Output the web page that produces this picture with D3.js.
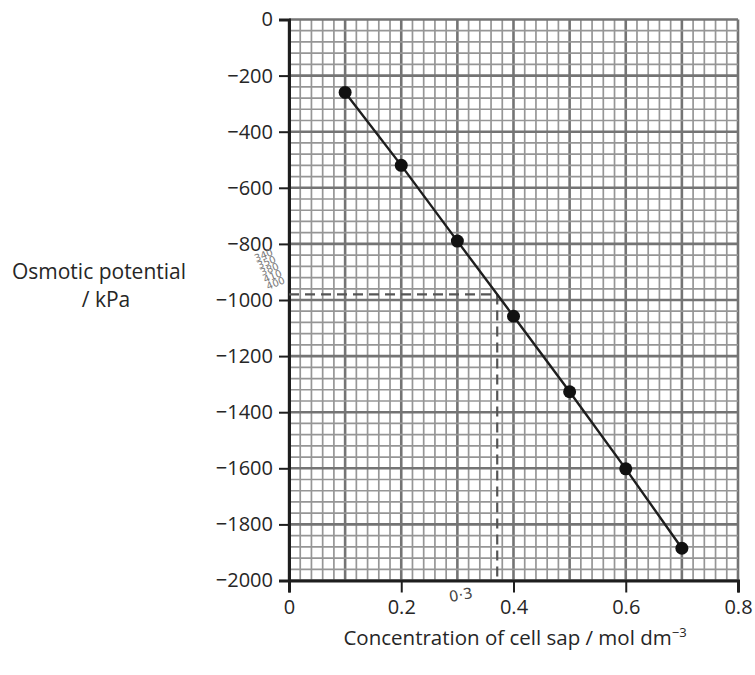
<!DOCTYPE html>
<html>
<head>
<meta charset="utf-8">
<script src="https://cdn.jsdelivr.net/npm/d3@7"></script>
<style>
  body { margin: 0; background: #fff; }
  text { font-family: "Open Sans", "Noto Sans", sans-serif; fill: #262626; }
  .hand text { font-family: "DejaVu Sans", sans-serif; }
</style>
</head>
<body>
<svg id="chart" width="755" height="675"></svg>
<script>
// data
var concentration = [0.1, 0.2, 0.3, 0.4, 0.5, 0.6, 0.7];
var potential = [-260, -520, -790, -1058, -1327, -1602, -1885];
var xTicks = [0, 0.2, 0.4, 0.6, 0.8];
var yTicks = [0, -200, -400, -600, -800, -1000, -1200, -1400, -1600, -1800, -2000];
// dashed read-off made by hand
var readOff = [0.371, -980];
var scribbles = ["340", "350", "380", "410", "400"];

var svg = d3.select("#chart");
var mLeft = 289, mTop = 19.5, w = 449, h = 561;

var x = d3.scaleLinear().domain([0, 0.8]).range([mLeft, mLeft + w]);
var y = d3.scaleLinear().domain([0, -2000]).range([mTop, mTop + h]);

// graph paper
var grid = svg.append("g");
var minorX = d3.range(0, 41).map(function(i){ return i * 0.02; });
var minorY = d3.range(0, 51).map(function(i){ return -i * 40; });

grid.selectAll(".vx").data(minorX).join("line")
    .attr("x1", function(d){ return x(d); }).attr("x2", function(d){ return x(d); })
    .attr("y1", y(0)).attr("y2", y(-2000))
    .attr("stroke", function(d, i){ return i % 5 == 0 ? "#747474" : "#969696"; })
    .attr("stroke-width", function(d, i){ return i % 5 == 0 ? 2.6 : 1.7; });

grid.selectAll(".hy").data(minorY).join("line")
    .attr("y1", function(d){ return y(d); }).attr("y2", function(d){ return y(d); })
    .attr("x1", x(0)).attr("x2", x(0.8))
    .attr("stroke", function(d, i){ return i % 5 == 0 ? "#747474" : "#969696"; })
    .attr("stroke-width", function(d, i){ return i % 5 == 0 ? 2.6 : 1.7; });

// axes
var yAxis = d3.axisLeft(y).tickValues(yTicks).tickSize(10).tickPadding(6)
    .tickFormat(function(d){ return d == 0 ? "0" : "\u2212" + Math.abs(d); });
var xAxis = d3.axisBottom(x).tickValues(xTicks).tickSize(12).tickPadding(7)
    .tickFormat(function(d){ return d == 0 ? "0" : d3.format(".1f")(d); });

var gy = svg.append("g").attr("transform", "translate(" + mLeft + ",0)").call(yAxis);
var gx = svg.append("g").attr("transform", "translate(0," + (mTop + h) + ")").call(xAxis);
[gy, gx].forEach(function(g){
    g.select(".domain").attr("stroke", "#1e1e1e").attr("stroke-width", 3);
    g.selectAll(".tick line").attr("stroke", "#1e1e1e").attr("stroke-width", 2);
    g.selectAll(".tick text").style("font-size", "20px").attr("fill", "#262626");
});

// dashed read-off lines
var dash = svg.append("g").attr("fill", "none").attr("stroke", "#555")
    .attr("stroke-width", 2.2).attr("stroke-dasharray", "10,6");
dash.append("line").attr("x1", x(0)).attr("x2", x(readOff[0]))
    .attr("y1", y(readOff[1])).attr("y2", y(readOff[1]));
dash.append("line").attr("x1", x(readOff[0])).attr("x2", x(readOff[0]))
    .attr("y1", y(readOff[1])).attr("y2", y(-2000));

// data line and points
var pts = concentration.map(function(c, i){ return [c, potential[i]]; });
svg.append("path").datum(pts)
    .attr("fill", "none").attr("stroke", "#1e1e1e").attr("stroke-width", 2.4)
    .attr("d", d3.line().x(function(d){ return x(d[0]); }).y(function(d){ return y(d[1]); }));
svg.selectAll(".dot").data(pts).join("circle")
    .attr("cx", function(d){ return x(d[0]); })
    .attr("cy", function(d){ return y(d[1]); })
    .attr("r", 6.5).attr("fill", "#111");

// handwriting
var hand = svg.append("g").attr("class", "hand");
hand.selectAll("text").data(scribbles).join("text")
    .attr("transform", function(d, i){ return "translate(" + (256 + i * 3) + "," + (262 + i * 7) + ") rotate(-22)"; })
    .style("font-size", "10px").style("fill", "#7a7a7a").text(function(d){ return d; });
hand.append("text").attr("transform", "translate(450,602) rotate(-10)")
    .style("font-size", "15px").style("fill", "#444").text("0\u00b73");

// axis titles
svg.append("text").attr("x", 99).attr("y", 279).attr("text-anchor", "middle")
    .style("font-size", "21px").text("Osmotic potential");
svg.append("text").attr("x", 106).attr("y", 307).attr("text-anchor", "middle")
    .style("font-size", "21px").text("/ kPa");
var xt = svg.append("text").attr("x", 515).attr("y", 645).attr("text-anchor", "middle")
    .style("font-size", "20.5px");
xt.append("tspan").text("Concentration of cell sap / mol dm");
xt.append("tspan").attr("dy", -8).style("font-size", "13px").text("\u22123");
</script>
</body>
</html>
